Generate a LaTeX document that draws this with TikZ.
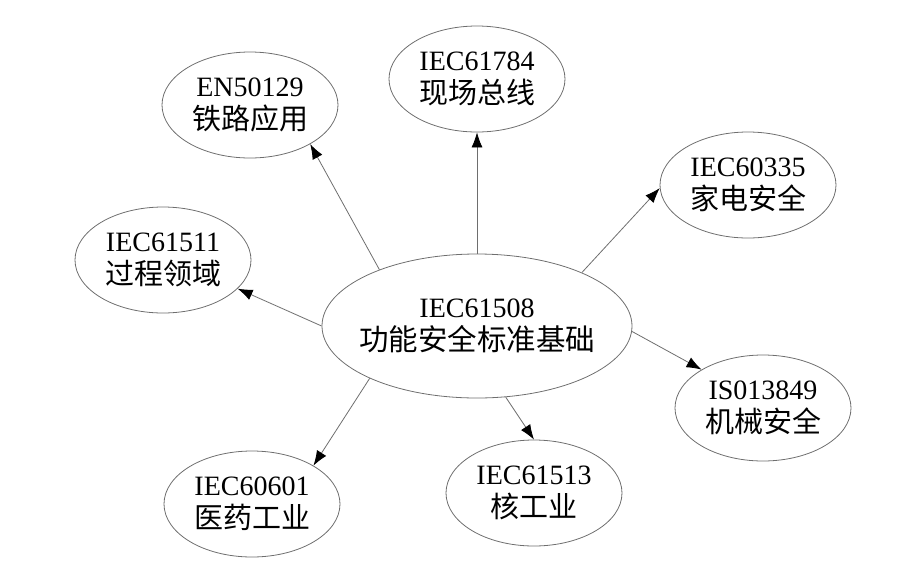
\documentclass[tikz,border=0pt]{standalone}
\usepackage{fontspec}
\setmainfont{Liberation Serif}
\newfontfamily\cjk{Noto Sans CJK SC}
\usepackage{tikz}
\usetikzlibrary{arrows.meta,shapes.geometric}
\definecolor{rimGray}{HTML}{6E6E6E}

\begin{document}
\begin{tikzpicture}[
    x=1pt, y=-1pt,
    normStyle/.style={ellipse, draw=rimGray, line width=0.8pt, inner sep=0pt, minimum width=176pt, minimum height=106pt, align=center, font=\fontsize{28}{33}\selectfont},
    hubStyle/.style={normStyle, inner xsep=-14pt, minimum width=310pt, minimum height=144pt},
    arrowStyle/.style={-{Latex[length=15pt,width=11pt,black]}, draw=rimGray, line width=0.8pt}
]
    \useasboundingbox (0,0) rectangle (898,566);

    \node[hubStyle] (hub) at (477,326) {IEC61508\\{\cjk\fontsize{29.5}{33}\selectfont 功能安全标准基础}};

    \node[normStyle] (rail) at (250,105) {EN50129\\{\cjk\fontsize{29}{33}\selectfont 铁路应用}};
    \node[normStyle] (bus) at (477,79) {IEC61784\\{\cjk\fontsize{29}{33}\selectfont 现场总线}};
    \node[normStyle] (home) at (748,185) {IEC60335\\{\cjk\fontsize{29}{33}\selectfont 家电安全}};
    \node[normStyle] (proc) at (163,260) {IEC61511\\{\cjk\fontsize{29}{33}\selectfont 过程领域}};
    \node[normStyle] (mach) at (763,408) {IS013849\\{\cjk\fontsize{29}{33}\selectfont 机械安全}};
    \node[normStyle] (med) at (252,504) {IEC60601\\{\cjk\fontsize{29}{33}\selectfont 医药工业}};
    \node[normStyle] (nuke) at (534,493) {IEC61513\\{\cjk\fontsize{29}{33}\selectfont 核工业}};

    \draw[arrowStyle] (hub.150) -- (rail.-33);
    \draw[arrowStyle] (hub.90) -- (bus.-90);
    \draw[arrowStyle] (hub.27) -- (home.182);
    \draw[arrowStyle] (hub.180) -- (proc.-21);
    \draw[arrowStyle] (hub.-2) -- (mach.148);
    \draw[arrowStyle] (hub.206) -- (med.32);
    \draw[arrowStyle] (hub.-68) -- (nuke.90);
\end{tikzpicture}
\end{document}
